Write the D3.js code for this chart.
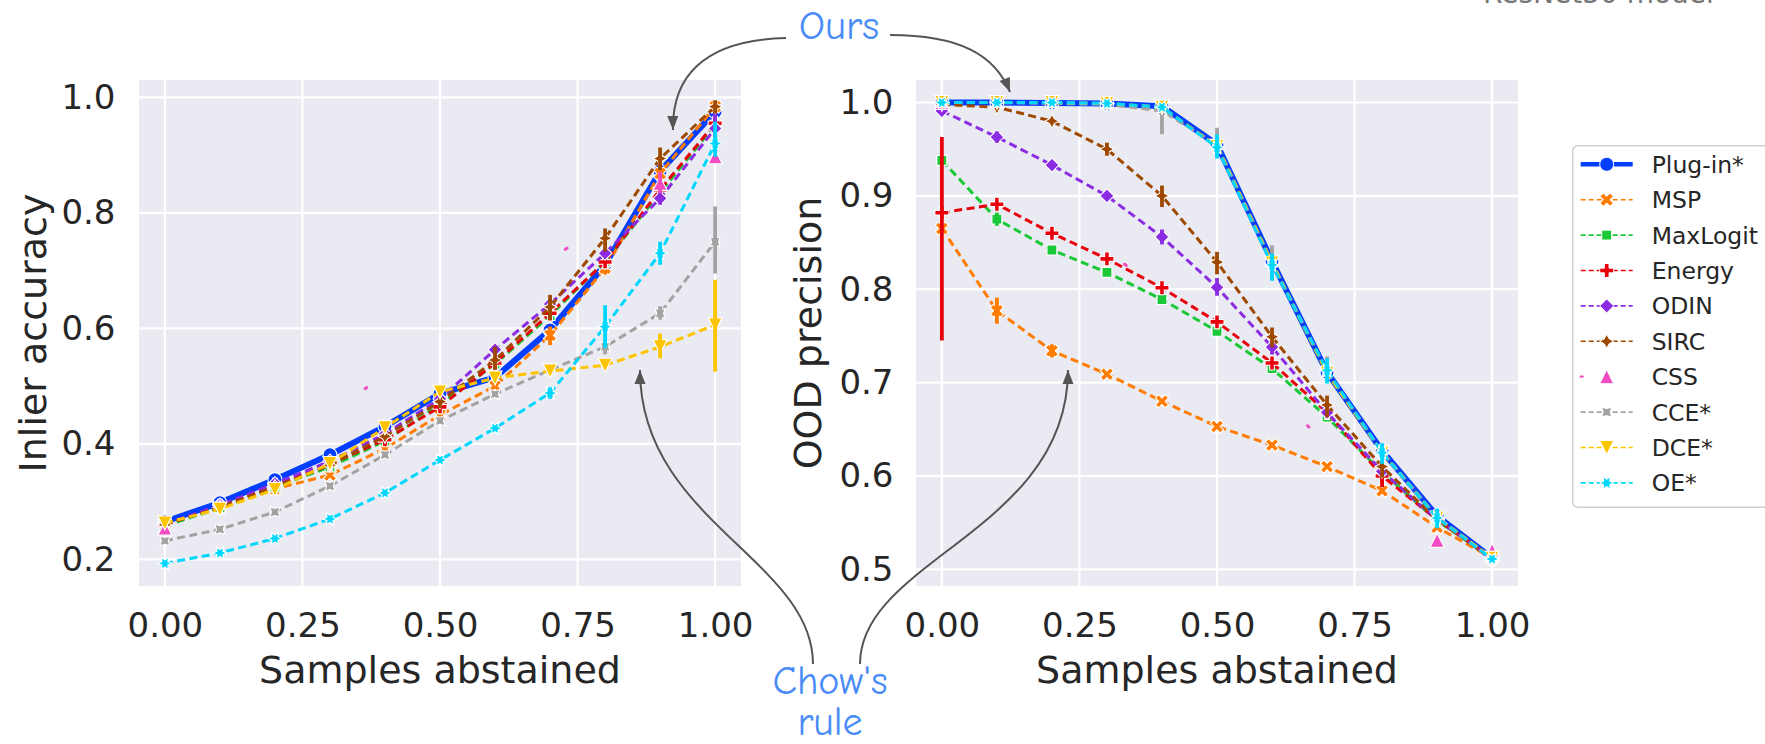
<!DOCTYPE html>
<html><head><meta charset="utf-8">
<script src="https://cdn.jsdelivr.net/npm/d3@7"></script>
<style>
body{margin:0;background:#fff;}
svg{display:block;font-family:"DejaVu Sans",sans-serif;}
</style>
</head><body>
<svg id="chart" width="1765" height="744"></svg>
<script>
// ---------------- DATA ----------------
const methods = ["Plug-in*","MSP","MaxLogit","Energy","ODIN","SIRC","CSS","CCE*","DCE*","OE*"];
const abstainSteps = [0,0.1,0.2,0.3,0.4,0.5,0.6,0.7,0.8,0.9,1.0];
const cssSteps = [0,0.9,1.0];
const xTickValues = [0,0.25,0.5,0.75,1.0];
const accTickValues = [0.2,0.4,0.6,0.8,1.0];
const precTickValues = [0.5,0.6,0.7,0.8,0.9,1.0];

// Inlier accuracy (left panel)
const accPlugin   = [0.265,0.298,0.338,0.381,0.430,0.487,0.515,0.597,0.710,0.872,0.975];
const accMSP      = [0.260,0.290,0.322,0.346,0.392,0.450,0.500,0.588,0.704,0.868,0.984];
const accMaxLogit = [0.258,0.289,0.325,0.360,0.405,0.468,0.538,0.622,0.716,0.835,0.952];
const accEnergy   = [0.260,0.292,0.328,0.365,0.407,0.464,0.540,0.626,0.715,0.840,0.955];
const accODIN     = [0.261,0.294,0.331,0.370,0.417,0.478,0.563,0.642,0.730,0.825,0.946];
const accSIRC     = [0.260,0.290,0.326,0.363,0.413,0.473,0.545,0.637,0.756,0.894,0.984];
const accCSS      = [0.254,0.851,0.897];
const accCCE      = [0.232,0.252,0.282,0.327,0.381,0.440,0.486,0.528,0.568,0.626,0.750];
const accDCE      = [0.263,0.287,0.321,0.366,0.428,0.490,0.514,0.526,0.536,0.568,0.606];
const accOE       = [0.193,0.211,0.236,0.270,0.315,0.372,0.427,0.488,0.603,0.730,0.920];

// error bars [x, low, high]
const accErrPlugin   = [];
const accErrMSP      = [[0.7,0.571,0.603],[0.8,0.693,0.718],[0.9,0.857,0.880]];
const accErrMaxLogit = [];
const accErrEnergy   = [[0.4,0.398,0.415],[0.7,0.614,0.640]];
const accErrODIN     = [[0.9,0.814,0.837],[1.0,0.905,0.975]];
const accErrSIRC     = [[0.5,0.462,0.482],[0.6,0.528,0.568],[0.7,0.614,0.658],[0.8,0.733,0.773],[0.9,0.874,0.913],[1.0,0.972,0.995]];
const accErrCSS      = [[0.9,0.834,0.871]];
const accErrCCE      = [[0.8,0.555,0.580],[0.9,0.615,0.638],[1.0,0.695,0.811]];
const accErrDCE      = [[0.9,0.548,0.591],[1.0,0.525,0.684]];
const accErrOE       = [[0.7,0.478,0.498],[0.8,0.566,0.640],[0.9,0.710,0.750],[1.0,0.897,0.958]];

// OOD precision (right panel)
const precPlugin   = [1.000,1.000,0.9995,0.999,0.996,0.955,0.830,0.711,0.627,0.557,0.512];
const precMSP      = [0.865,0.777,0.734,0.709,0.680,0.653,0.633,0.610,0.584,0.545,0.512];
const precMaxLogit = [0.938,0.875,0.842,0.818,0.789,0.755,0.715,0.663,0.604,0.552,0.512];
const precEnergy   = [0.882,0.891,0.860,0.8325,0.8015,0.765,0.721,0.668,0.600,0.553,0.512];
const precODIN     = [0.991,0.963,0.933,0.900,0.856,0.802,0.738,0.668,0.605,0.553,0.512];
const precSIRC     = [0.998,0.995,0.980,0.950,0.900,0.829,0.749,0.676,0.610,0.553,0.512];
const precCSS      = [1.000,0.531,0.520];
const precCCE      = [1.000,1.000,0.999,0.998,0.991,0.955,0.829,0.712,0.626,0.556,0.512];
const precDCE      = [1.000,1.000,1.000,0.999,0.995,0.953,0.828,0.710,0.625,0.555,0.512];
const precOE       = [1.000,1.000,1.000,0.999,0.995,0.952,0.826,0.713,0.625,0.555,0.511];

const precErrPlugin   = [];
const precErrMSP      = [[0.1,0.763,0.791],[0.2,0.727,0.741]];
const precErrMaxLogit = [[0.1,0.868,0.882]];
const precErrEnergy   = [[0.0,0.745,0.963],[0.8,0.588,0.612]];
const precErrODIN     = [[0.1,0.957,0.969],[0.4,0.848,0.864],[0.5,0.793,0.812],[0.6,0.730,0.748]];
const precErrSIRC     = [[0.3,0.943,0.957],[0.4,0.888,0.911],[0.5,0.816,0.840],[0.6,0.738,0.759],[0.7,0.663,0.686],[0.8,0.598,0.615]];
const precErrCSS      = [];
const precErrCCE      = [[0.4,0.966,0.999],[0.5,0.945,0.973],[0.6,0.810,0.847],[0.7,0.700,0.728]];
const precErrDCE      = [];
const precErrOE       = [[0.5,0.940,0.966],[0.6,0.809,0.838],[0.7,0.699,0.726],[0.8,0.613,0.635],[0.9,0.544,0.565]];

// ---------------- STYLE ----------------
const colors = ["#023eff","#ff7c00","#1ac938","#e8000b","#8b2be2","#9f4800","#f14cc1","#a3a3a3","#ffc400","#00d7ff"];
const markerTypes = ["o","X","sq","P","D","star4","^","xstar4","v","star6"];
const textColor = "#262626";

function buildSeries(vals, errs){
  return methods.map((m,i)=>{
    const xs = (m==="CSS") ? cssSteps : abstainSteps;
    return {name:m, color:colors[i], marker:markerTypes[i],
      pts: xs.map((xv,k)=>[xv, vals[i][k]]), errs: errs[i]};
  });
}
const accSeries = buildSeries(
  [accPlugin,accMSP,accMaxLogit,accEnergy,accODIN,accSIRC,accCSS,accCCE,accDCE,accOE],
  [accErrPlugin,accErrMSP,accErrMaxLogit,accErrEnergy,accErrODIN,accErrSIRC,accErrCSS,accErrCCE,accErrDCE,accErrOE]);
const precSeries = buildSeries(
  [precPlugin,precMSP,precMaxLogit,precEnergy,precODIN,precSIRC,precCSS,precCCE,precDCE,precOE],
  [precErrPlugin,precErrMSP,precErrMaxLogit,precErrEnergy,precErrODIN,precErrSIRC,precErrCSS,precErrCCE,precErrDCE,precErrOE]);

// marker shapes (matplotlib-like)
function markerPath(type, r){
  const toPath = pts => "M" + pts.map(p=>p[0].toFixed(2)+","+p[1].toFixed(2)).join("L") + "Z";
  const poly = (n, rad, rot) => d3.range(n).map(k=>{const a=(90+rot+360*k/n)*Math.PI/180; return [rad*Math.cos(a), -rad*Math.sin(a)];});
  const star = (n, rot) => d3.range(2*n).map(k=>{const rad = k%2===0 ? r : r*0.5; const a=(90+rot+180*k/n)*Math.PI/180; return [rad*Math.cos(a), -rad*Math.sin(a)];});
  const plus = rot => {
    const c=Math.cos(rot*Math.PI/180), s=Math.sin(rot*Math.PI/180);
    return [[-1,-3],[-1,-1],[-3,-1],[-3,1],[-1,1],[-1,3],[1,3],[1,1],[3,1],[3,-1],[1,-1],[1,-3]]
      .map(([a,b])=>[a*r/3,b*r/3]).map(([a,b])=>[a*c-b*s, a*s+b*c]);
  };
  switch(type){
    case "o": return `M${r},0A${r},${r} 0 1 1 ${-r},0A${r},${r} 0 1 1 ${r},0Z`;
    case "X": return toPath(plus(45));
    case "P": return toPath(plus(0));
    case "sq": return toPath(poly(4, r, 45));
    case "D": return toPath(poly(4, r, 0));
    case "star4": return toPath(star(4, 0));
    case "xstar4": return toPath(star(4, 45));
    case "^": return toPath([[0,-r],[-r,r],[r,r]]);
    case "v": return toPath([[0,r],[-r,-r],[r,-r]]);
    case "star6": return toPath(star(6, 30));
  }
}

const svg = d3.select("#chart");
svg.append("rect").attr("width",1765).attr("height",744).attr("fill","#fff");

const panels = [
  {series:accSeries, x0:139, x1:741, y0:80, y1:586, yDomain:[0.1538,1.030], yTicks:accTickValues,
   yFmt:d3.format(".1f"), yLabel:"Inlier accuracy", yLabelX:46, tickPad:23.5},
  {series:precSeries, x0:916, x1:1518, y0:80, y1:586, yDomain:[0.4821,1.0241], yTicks:precTickValues,
   yFmt:d3.format(".1f"), yLabel:"OOD precision", yLabelX:821, tickPad:22.5}
];

panels.forEach(p=>{
  const x = d3.scaleLinear().domain([-0.047,1.047]).range([p.x0,p.x1]);
  const y = d3.scaleLinear().domain(p.yDomain).range([p.y1,p.y0]);
  const g = svg.append("g");
  g.append("rect").attr("x",p.x0).attr("y",p.y0).attr("width",p.x1-p.x0).attr("height",p.y1-p.y0).attr("fill","#eaeaf2");
  // grid
  g.selectAll(".gx").data(xTickValues).join("line")
    .attr("x1",d=>x(d)).attr("x2",d=>x(d)).attr("y1",p.y0).attr("y2",p.y1)
    .attr("stroke","#fff").attr("stroke-width",2.2);
  g.selectAll(".gy").data(p.yTicks).join("line")
    .attr("y1",d=>y(d)).attr("y2",d=>y(d)).attr("x1",p.x0).attr("x2",p.x1)
    .attr("stroke","#fff").attr("stroke-width",2.2);
  // axes
  const ax = g.append("g").attr("transform",`translate(0,${p.y1})`)
    .call(d3.axisBottom(x).tickValues(xTickValues).tickFormat(d3.format(".2f")).tickSize(0).tickPadding(27));
  const ay = g.append("g").attr("transform",`translate(${p.x0},0)`)
    .call(d3.axisLeft(y).tickValues(p.yTicks).tickFormat(p.yFmt).tickSize(0).tickPadding(p.tickPad));
  [ax,ay].forEach(a=>{
    a.select(".domain").remove();
    a.selectAll("text").attr("font-size",34).attr("fill",textColor).attr("font-family","DejaVu Sans");
  });
  // labels
  g.append("text").attr("x",(p.x0+p.x1)/2).attr("y",683).attr("text-anchor","middle")
    .attr("font-size",38).attr("fill",textColor).text("Samples abstained");
  g.append("text").attr("transform",`translate(${p.yLabelX},${(p.y0+p.y1)/2}) rotate(-90)`)
    .attr("text-anchor","middle").attr("font-size",38).attr("fill",textColor).text(p.yLabel);

  const line = d3.line().x(d=>x(d[0])).y(d=>y(d[1]));
  p.series.forEach(s=>{
    const sg = g.append("g");
    const path = sg.append("path").attr("d",line(s.pts)).attr("fill","none").attr("stroke",s.color);
    if(s.name==="Plug-in*"){ path.attr("stroke-width",6).attr("stroke-linejoin","round"); }
    else if(s.name==="CSS"){ path.attr("stroke-width",3).attr("stroke-dasharray","2,242").attr("stroke-linecap","round"); }
    else { path.attr("stroke-width",3).attr("stroke-dasharray","8,4.5"); }
    sg.selectAll(".m").data(s.pts).join("path")
      .attr("d",markerPath(s.marker,7)).attr("transform",d=>`translate(${x(d[0])},${y(d[1])})`)
      .attr("fill",s.color).attr("stroke","#fff").attr("stroke-width",1.1);
    sg.selectAll(".e").data(s.errs).join("line")
      .attr("x1",d=>x(d[0])).attr("x2",d=>x(d[0])).attr("y1",d=>y(d[1])).attr("y2",d=>y(d[2]))
      .attr("stroke",s.color).attr("stroke-width",3.8);
  });
});

// ---------------- LEGEND ----------------
const lg = svg.append("g");
lg.append("rect").attr("x",1572.7).attr("y",145.7).attr("width",240).attr("height",361.6).attr("rx",5)
  .attr("fill","#fff").attr("stroke","#cfcfcf").attr("stroke-width",1.5);
methods.forEach((m,i)=>{
  const yy = 164.3 + 35.4*i;
  const l = lg.append("line").attr("x1",1580.7).attr("x2",1632.7).attr("y1",yy).attr("y2",yy).attr("stroke",colors[i]);
  if(m==="Plug-in*") l.attr("stroke-width",4.5);
  else if(m==="CSS") l.attr("stroke-width",2.2).attr("stroke-dasharray","2,242").attr("stroke-linecap","round");
  else l.attr("stroke-width",1.6).attr("stroke-dasharray","5,3");
  lg.append("path").attr("d",markerPath(markerTypes[i],7)).attr("transform",`translate(1606.7,${yy})`)
    .attr("fill",colors[i]).attr("stroke","#fff").attr("stroke-width",1);
  lg.append("text").attr("x",1651.7).attr("y",yy).attr("dy","0.36em").attr("font-size",23.5).attr("fill",textColor).text(m);
});

// ---------------- ANNOTATIONS ----------------
const defs = svg.append("defs");
defs.append("marker").attr("id","ah").attr("viewBox","-15 -7 16 14").attr("refX",0).attr("refY",0)
  .attr("markerWidth",16).attr("markerHeight",14).attr("markerUnits","userSpaceOnUse").attr("orient","auto")
  .append("path").attr("d","M0,0L-14,-5.5L-14,5.5Z").attr("fill","#555");
const arrows = [
  "M786,38 C700,40 672,80 673,130",
  "M890,35 C960,35 995,55 1010,92",
  "M813,664 C813,560 640,520 640,370",
  "M860,664 C860,560 1068,530 1068,370"
];
arrows.forEach(d=>svg.append("path").attr("d",d).attr("fill","none").attr("stroke","#555").attr("stroke-width",2).attr("marker-end","url(#ah)"));
const annFont = "'Comic Sans MS','Comic Neue','Noto Sans',sans-serif";
svg.append("text").attr("x",839).attr("y",39).attr("text-anchor","middle").attr("font-size",41)
  .attr("font-family",annFont).attr("fill","#4a8cf7").text("Ours");
const chow = svg.append("text").attr("x",830).attr("y",694).attr("text-anchor","middle").attr("font-size",40)
  .attr("font-family",annFont).attr("fill","#4a8cf7");
chow.append("tspan").attr("x",830).text("Chow's");
chow.append("tspan").attr("x",830).attr("dy",41).text("rule");
svg.append("text").attr("x",1483).attr("y",3).attr("font-size",28).attr("fill","#777").text("ResNet50 model");
</script>
</body></html>
